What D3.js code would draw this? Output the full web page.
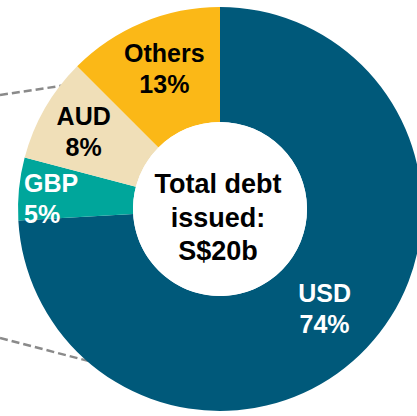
<!DOCTYPE html>
<html>
<head>
<meta charset="utf-8">
<script src="https://cdn.jsdelivr.net/npm/d3@7"></script>
<style>
  html, body { margin: 0; padding: 0; background: #ffffff; }
  svg { display: block; }
  text { font-family: "Liberation Sans", Arial, Helvetica, sans-serif; font-weight: bold; }
</style>
</head>
<body>
<svg id="chart" width="417" height="416"></svg>
<script>
// ---- data ----
const categories = ["USD", "GBP", "AUD", "Others"];
const values = [74.1, 5.0, 8.4, 12.5];
const pctLabels = ["74%", "5%", "8%", "13%"];
const centerLines = ["Total debt", "issued:", "S$20b"];

// ---- style / layout ----
const colors = ["#00597a", "#00a69b", "#f0dfb8", "#fbb817"];
const textColors = ["#ffffff", "#ffffff", "#000000", "#000000"];
const W = 417, H = 416;
const cx = 220, cy = 209, outerR = 202, innerR = 87;

const svg = d3.select("#chart");

// dashed connector lines (behind the donut)
const connectors = [
  [[0, 95], [80, 83]],
  [[0, 338], [100, 364]]
];
svg.selectAll("line.conn").data(connectors).enter().append("line")
  .attr("class", "conn")
  .attr("x1", d => d[0][0]).attr("y1", d => d[0][1])
  .attr("x2", d => d[1][0]).attr("y2", d => d[1][1])
  .attr("stroke", "#8a8a8a").attr("stroke-width", 2.5)
  .attr("stroke-dasharray", "8,4");

const g = svg.append("g").attr("transform", `translate(${cx},${cy})`);

const pie = d3.pie().sort(null).value(d => d);
const arcs = pie(values);
const arc = d3.arc().innerRadius(innerR).outerRadius(outerR);

g.selectAll("path.slice").data(arcs).enter().append("path")
  .attr("class", "slice")
  .attr("d", arc)
  .attr("fill", (d, i) => colors[i]);

// white center
g.append("circle").attr("r", innerR).attr("fill", "#ffffff");

// slice labels
const labelArc = d3.arc().innerRadius(148).outerRadius(148);
const tweak = [[-3, -2], [0, 0], [-8, -4], [1, -4]];
arcs.forEach((d, i) => {
  let [x, y] = labelArc.centroid(d);
  x += tweak[i][0]; y += tweak[i][1];
  let anchor = "middle";
  if (categories[i] === "GBP") { x = -outerR + 6; y = -10.5; anchor = "start"; }
  const t = g.append("text")
    .attr("text-anchor", anchor)
    .attr("fill", textColors[i])
    .attr("font-size", 25);
  t.append("tspan").attr("x", x).attr("y", y - 6.5).text(categories[i]);
  t.append("tspan").attr("x", x).attr("y", y + 24.5).text(pctLabels[i]);
});

// center text
const cOff = [-16, 18, 51];
g.selectAll("text.center").data(centerLines).enter().append("text")
  .attr("class", "center")
  .attr("x", -2)
  .attr("y", (d, i) => cOff[i])
  .attr("text-anchor", "middle")
  .attr("font-size", 27)
  .attr("fill", "#000000")
  .text(d => d);
</script>
</body>
</html>
